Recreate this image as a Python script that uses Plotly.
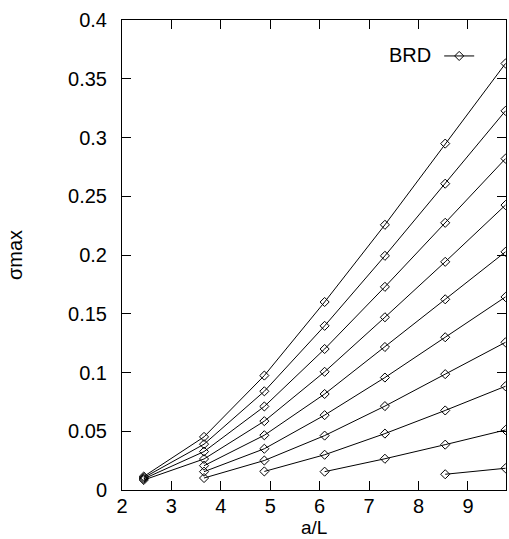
import plotly.graph_objects as go

# a/L positions
x_vals = [2.44, 3.66, 4.88, 6.10, 7.32, 8.54, 9.76]

# each curve ends at the last a/L value
curve1 = [0.0115, 0.0452, 0.0974, 0.1600, 0.2257, 0.2948, 0.3630]
curve2 = [0.0105, 0.0390, 0.0840, 0.1397, 0.1993, 0.2607, 0.3227]
curve3 = [0.0095, 0.0327, 0.0711, 0.1200, 0.1729, 0.2274, 0.2820]
curve4 = [0.0085, 0.0264, 0.0586, 0.1006, 0.1470, 0.1942, 0.2425]
curve5 = [0.0207, 0.0466, 0.0817, 0.1217, 0.1623, 0.2027]
curve6 = [0.0156, 0.0351, 0.0637, 0.0957, 0.1300, 0.1643]
curve7 = [0.0102, 0.0251, 0.0463, 0.0714, 0.0986, 0.1257]
curve8 = [0.0158, 0.0300, 0.0480, 0.0677, 0.0883]
curve9 = [0.0156, 0.0266, 0.0386, 0.0511]
curve10 = [0.0134, 0.0185]

curves = [curve1, curve2, curve3, curve4, curve5, curve6, curve7, curve8, curve9, curve10]

xs, ys = [], []
for c in curves:
    start = len(x_vals) - len(c)
    xs += x_vals[start:] + [None]
    ys += c + [None]

FONT = "Liberation Sans, Arial, sans-serif"

fig = go.Figure()
fig.add_trace(go.Scatter(
    x=xs, y=ys, mode="lines+markers", name="",
    line=dict(color="black", width=1),
    marker=dict(symbol="diamond-open", size=7, color="black", line=dict(width=1, color="black")),
    connectgaps=False, showlegend=True,
))

fig.update_layout(
    width=509, height=539,
    margin=dict(l=122, r=3, t=20, b=49),
    paper_bgcolor="white", plot_bgcolor="white",
    font=dict(family=FONT, size=20, color="black"),
    legend=dict(
        title=dict(text="BRD", side="left", font=dict(size=20)),
        x=0.69, xanchor="left", y=0.965, yanchor="top",
        bgcolor="rgba(0,0,0,0)", borderwidth=0,
        font=dict(size=20),
    ),
    xaxis=dict(
        range=[2, 9.77], dtick=1, tick0=2,
        ticks="inside", ticklen=9, tickwidth=1, tickcolor="black",
        showline=True, linecolor="black", linewidth=1, mirror="ticks",
        showgrid=False, zeroline=False, automargin=False,
        ticklabelstandoff=-2,
        tickfont=dict(size=20),
    ),
    yaxis=dict(
        range=[0, 0.4], dtick=0.05, tick0=0,
        ticks="inside", ticklen=9, tickwidth=1, tickcolor="black",
        showline=True, linecolor="black", linewidth=1, mirror="ticks",
        showgrid=False, zeroline=False, automargin=False,
        ticklabelstandoff=10,
        title=dict(text="σmax", standoff=40, font=dict(size=20)),
        tickfont=dict(size=20),
    ),
    annotations=[dict(
        text="a/L", xref="paper", yref="paper", x=0.5, y=0,
        xanchor="center", yanchor="middle", yshift=-37, showarrow=False,
        font=dict(size=19),
    )],
)

fig.write_html(
    "out.html",
    config={"displayModeBar": False},
    post_script="document.body.style.margin='0';document.body.style.overflow='hidden';",
)
